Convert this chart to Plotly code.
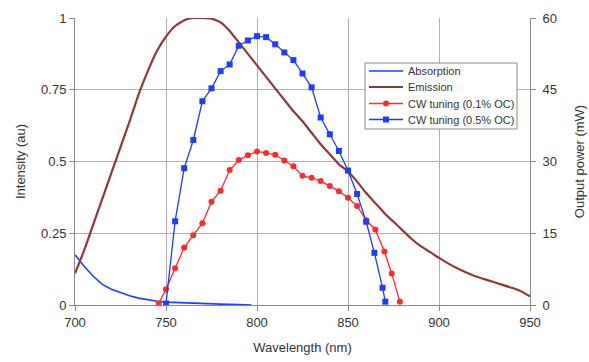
import plotly.graph_objects as go

# Emission (normalized intensity, left axis)
em_x = [700, 705, 710, 715, 720, 725, 730, 735, 740, 745, 750, 755, 760, 765, 770, 775,
        780, 785, 790, 795, 800, 805, 810, 815, 820, 825, 830, 835, 840, 845, 850, 855,
        860, 865, 870, 875, 880, 885, 890, 895, 900, 905, 910, 915, 920, 925, 930, 935,
        940, 945, 950]
em_y = [0.11, 0.19, 0.28, 0.37, 0.46, 0.55, 0.64, 0.735, 0.815, 0.885, 0.935, 0.972, 0.992, 1.0, 1.0, 0.998,
        0.985, 0.955, 0.915, 0.875, 0.835, 0.795, 0.755, 0.715, 0.675, 0.64, 0.60, 0.56, 0.525, 0.49, 0.465, 0.43,
        0.39, 0.355, 0.32, 0.29, 0.26, 0.23, 0.205, 0.185, 0.164, 0.145, 0.128, 0.113, 0.10, 0.09, 0.08, 0.07,
        0.06, 0.048, 0.03]

# Absorption (left axis)
ab_x = [700, 705, 710, 715, 720, 725, 730, 735, 740, 745, 750, 760, 770, 780, 790, 797]
ab_y = [0.175, 0.135, 0.10, 0.072, 0.055, 0.043, 0.032, 0.024, 0.018, 0.013, 0.010, 0.007, 0.005, 0.003, 0.002, 0.0]

# CW tuning 0.1% OC (mW, right axis)
cw1_x = [746, 750, 755, 760, 765, 770, 775, 780, 785, 790, 795, 800, 805, 810, 815, 820,
         825, 830, 835, 840, 845, 850, 855, 860, 865, 870, 874, 878.5]
cw1_y = [0.3, 3.3, 7.7, 12.0, 14.6, 17.1, 21.6, 23.9, 28.2, 30.3, 31.3, 32.1, 31.8, 31.4, 30.2, 29.0,
         27.0, 26.6, 25.9, 24.9, 23.8, 22.4, 20.7, 17.7, 15.8, 11.2, 6.6, 0.7]

# CW tuning 0.5% OC (mW, right axis)
cw5_x = [750, 755, 760, 765, 770, 775, 780, 785, 790, 795, 800, 805, 810, 815, 820, 825,
         830, 835, 840, 845, 850, 855, 860, 864.5, 869, 870.5]
cw5_y = [0.3, 17.5, 28.6, 34.5, 42.6, 45.3, 48.9, 50.3, 54.2, 55.3, 56.2, 56.0, 54.5, 52.8, 51.2, 48.4,
         45.5, 39.2, 35.7, 32.2, 28.1, 23.2, 17.4, 10.9, 3.6, 0.7]

series_names = ["Absorption", "Emission", "CW tuning (0.1% OC)", "CW tuning (0.5% OC)"]

x_ticks = [700, 750, 800, 850, 900, 950]
y_ticks = [0, 0.25, 0.5, 0.75, 1]
y_tick_text = ["0", "0.25", "0.5", "0.75", "1"]
y2_ticks = [0, 15, 30, 45, 60]

BLUE = "#1f3cff"
RED = "#ff2a2a"
BROWN = "#8b3a3a"
FONT = "Liberation Sans, Arial, sans-serif"

# plot area geometry (pixels) used to place the hand-made legend
W, H = 589, 362
ML, MR, MT, MB = 75, 59, 18, 57
PW, PH = W - ML - MR, H - MT - MB


def px(x):
    return (x - ML) / PW


def py(y):
    return (H - MB - y) / PH


fig = go.Figure()
fig.add_trace(go.Scatter(x=ab_x, y=ab_y, mode="lines", name=series_names[0],
                         line=dict(color=BLUE, width=1.6), yaxis="y"))
fig.add_trace(go.Scatter(x=em_x, y=em_y, mode="lines", name=series_names[1],
                         line=dict(color=BROWN, width=2.2, shape="spline", smoothing=0.4), yaxis="y"))
fig.add_trace(go.Scatter(x=cw1_x, y=cw1_y, mode="lines+markers", name=series_names[2],
                         line=dict(color=RED, width=1.3),
                         marker=dict(symbol="circle", size=6, color=RED), yaxis="y2"))
fig.add_trace(go.Scatter(x=cw5_x, y=cw5_y, mode="lines+markers", name=series_names[3],
                         line=dict(color=BLUE, width=1.3),
                         marker=dict(symbol="square", size=6, color=BLUE), yaxis="y2"))

# Custom compact legend (Excel-style)
shapes = [dict(type="rect", xref="paper", yref="paper",
               x0=px(365), x1=px(517), y0=py(129), y1=py(63),
               line=dict(color="#888888", width=1), fillcolor="white", layer="above")]
annotations = []
legend_colors = [BLUE, BROWN, RED, BLUE]
legend_widths = [1.6, 2.2, 1.3, 1.3]
legend_marks = [None, None, "circle", "square"]
row_y = [71, 87, 103.5, 119.5]
for name, col, lw, mk, ry in zip(series_names, legend_colors, legend_widths, legend_marks, row_y):
    shapes.append(dict(type="line", xref="paper", yref="paper",
                       x0=px(369), x1=px(403), y0=py(ry), y1=py(ry),
                       line=dict(color=col, width=lw), layer="above"))
    if mk == "circle":
        shapes.append(dict(type="circle", xref="paper", yref="paper",
                           x0=px(383), x1=px(389), y0=py(ry + 3), y1=py(ry - 3),
                           line=dict(color=col, width=0), fillcolor=col, layer="above"))
    elif mk == "square":
        shapes.append(dict(type="rect", xref="paper", yref="paper",
                           x0=px(383), x1=px(389), y0=py(ry + 3), y1=py(ry - 3),
                           line=dict(color=col, width=0), fillcolor=col, layer="above"))
    annotations.append(dict(text=name, xref="paper", yref="paper",
                            x=px(406), y=py(ry), xanchor="left", yanchor="middle",
                            showarrow=False, font=dict(size=11, color="#333333", family=FONT)))

fig.update_layout(
    width=W, height=H,
    margin=dict(l=ML, r=MR, t=MT, b=MB),
    paper_bgcolor="white", plot_bgcolor="white",
    font=dict(family=FONT, size=13, color="#333333"),
    showlegend=False,
    shapes=shapes,
    annotations=annotations,
    xaxis=dict(range=[700, 950], tickvals=x_ticks, showgrid=True, gridcolor="#b0b0b0",
               gridwidth=1, showline=True, linecolor="#888888", linewidth=1,
               ticks="outside", ticklen=5, tickcolor="#888888", zeroline=False,
               automargin=False,
               title=dict(text="Wavelength (nm)", standoff=14, font=dict(size=13))),
    yaxis=dict(range=[0, 1], tickvals=y_ticks, ticktext=y_tick_text, showgrid=True,
               gridcolor="#b0b0b0", gridwidth=1, showline=True, linecolor="#888888",
               linewidth=1, ticks="outside", ticklen=5, tickcolor="#888888", zeroline=False,
               automargin=False,
               title=dict(text="Intensity (au)", standoff=12, font=dict(size=13))),
    yaxis2=dict(range=[0, 60], tickvals=y2_ticks, overlaying="y", side="right",
                showgrid=False, showline=True, linecolor="#888888", linewidth=1,
                ticks="outside", ticklen=5, tickcolor="#888888", zeroline=False,
                ticklabelstandoff=4, automargin=False,
                title=dict(text="Output power (mW)", standoff=18, font=dict(size=13))),
)

fig.write_html("out.html")
